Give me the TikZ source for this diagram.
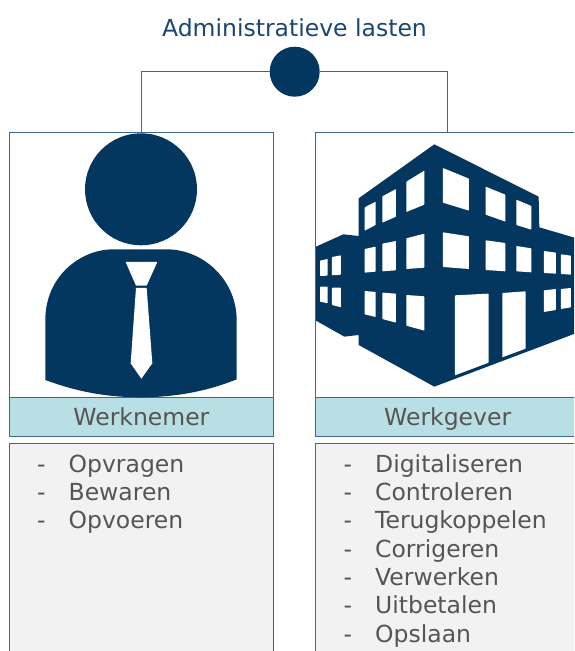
\documentclass[tikz,border=0pt]{standalone}
\usepackage{fontspec}
\setmainfont{DejaVu Sans}
\definecolor{navy}{HTML}{04375F}
\definecolor{titleblue}{HTML}{1A4672}
\definecolor{edgeblue}{HTML}{3A6890}
\definecolor{labelteal}{HTML}{B8DFE3}
\definecolor{listgrey}{HTML}{F2F2F2}
\definecolor{textgrey}{HTML}{555555}
\tikzset{
  picbox/.style={draw=edgeblue,fill=white,line width=0.8pt,minimum width=264pt,minimum height=264.6pt,inner sep=0pt},
  labelbox/.style={draw=edgeblue,fill=labelteal,line width=0.8pt,minimum width=264pt,minimum height=39.4pt,inner sep=0pt,text height=19pt,text depth=3pt,font=\fontsize{23.5pt}{26pt}\selectfont,text=textgrey},
  listbox/.style={draw=edgeblue,fill=listgrey,line width=0.8pt,minimum width=264pt,minimum height=240pt,inner sep=0pt},
  itemtext/.style={anchor=base west,inner sep=0pt,font=\fontsize{23.5pt}{26pt}\selectfont,text=textgrey},
  icon/.style={fill=navy,draw=none},
  hole/.style={fill=white,draw=none,rounded corners=0.6pt},
  link/.style={draw=edgeblue,line width=0.8pt}
}
\begin{document}
\begin{tikzpicture}[x=1pt,y=-1pt]
  \useasboundingbox (0,0) rectangle (574,651);
  \clip (0,0) rectangle (574,651);
  % top
  \node[inner sep=0pt,text=titleblue,font=\fontsize{23.5pt}{26pt}\selectfont] (title) at (294.5,28) {Administratieve lasten};
  \node[circle,icon,minimum size=50pt,inner sep=0pt] (hub) at (294.7,71.7) {};
  % left column
  \node[picbox] (wnpic) at (141.4,265) {};
  \node[labelbox] (wnlabel) at (141.4,417) {Werknemer};
  \node[listbox,anchor=north] (wnlist) at (141.4,442.7) {};
  % right column
  \node[picbox] (wgpic) at (447.7,265) {};
  \node[labelbox] (wglabel) at (447.7,417) {Werkgever};
  \node[listbox,anchor=north] (wglist) at (447.7,442.7) {};
  % connectors
  \draw[link] (hub) -| (wnpic);
  \draw[link] (hub) -| (wgpic);
  % person
  \node[circle,icon,minimum size=112pt,inner sep=0pt] (head) at (141,189.3) {};
  \begin{scope}[shift={(0,130)},x=0.3333pt,y=-0.3333pt]
    \fill[icon] (136,750) -- (136,570) .. controls (136,440) and (240,358) .. (340,358)
      -- (500,358) .. controls (610,358) and (710,450) .. (710,570)
      -- (710,748) .. controls (620,785) and (520,802) .. (423,802)
      .. controls (320,802) and (230,785) .. (136,750) -- cycle;
    \fill[hole] (377,396) -- (472,396) -- (440,467) -- (408,467) -- cycle;
    \fill[white] (408,474) -- (440,474) -- (457,700) -- (424,746) -- (392,700) -- cycle;
  \end{scope}
  % building
  \begin{scope}[shift={(300,130)},x=0.3333pt,y=-0.3333pt]
    \fill[icon] (48,350) -- (130,313) -- (176,318) -- (176,205) -- (403,43) -- (716,200) -- (718,292)
      -- (830,325) -- (830,609) -- (403,770) -- (176,645) -- (176,615) -- (133,620) -- (48,572) -- cycle;
    % top row
    \fill[hole] (194,232) -- (227,215) -- (227,285) -- (194,302) -- cycle;
    \fill[hole] (247,199) -- (288,177) -- (288,260) -- (247,278) -- cycle;
    \fill[hole] (319,155) -- (373,122) -- (373,224) -- (319,246) -- cycle;
    \fill[hole] (429,114) -- (507,146) -- (507,242) -- (429,218) -- cycle;
    \fill[hole] (557,170) -- (616,194) -- (616,275) -- (557,254) -- cycle;
    \fill[hole] (649,209) -- (694,228) -- (694,299) -- (649,285) -- cycle;
    % middle row
    \fill[hole] (194,357) -- (227,350) -- (227,425) -- (194,428) -- cycle;
    \fill[hole] (247,341) -- (288,333) -- (288,421) -- (247,424) -- cycle;
    \fill[hole] (319,325) -- (373,311) -- (373,413) -- (319,417) -- cycle;
    \fill[hole] (429,307) -- (507,319) -- (507,417) -- (429,411) -- cycle;
    \fill[hole] (557,331) -- (616,339) -- (616,424) -- (557,420) -- cycle;
    \fill[hole] (649,348) -- (694,355) -- (694,427) -- (649,424) -- cycle;
    \fill[hole] (732,363) -- (768,368) -- (768,431) -- (732,429) -- cycle;
    \fill[hole] (783,373) -- (813,377) -- (813,434) -- (783,432) -- cycle;
    % bottom row
    \fill[hole] (194,483) -- (227,486) -- (227,561) -- (194,553) -- cycle;
    \fill[hole] (247,488) -- (288,491) -- (288,578) -- (247,567) -- cycle;
    \fill[hole] (319,495) -- (373,499) -- (373,602) -- (319,587) -- cycle;
    \fill[hole] (732,481) -- (768,477) -- (768,540) -- (732,546) -- cycle;
    \fill[hole] (783,477) -- (813,474) -- (813,532) -- (783,537) -- cycle;
    % doors
    \fill[hole] (465,496) -- (566,491) -- (566,698) -- (465,736) -- cycle;
    \fill[hole] (607,489) -- (677,484) -- (677,656) -- (607,682) -- cycle;
    % side wing
    \fill[hole] (60,392) -- (83,387) -- (83,437) -- (60,438) -- cycle;
    \fill[hole] (96,381) -- (123,376) -- (123,434) -- (96,436) -- cycle;
    \fill[hole] (60,470) -- (83,470) -- (83,520) -- (60,515) -- cycle;
    \fill[hole] (96,473) -- (123,473) -- (123,532) -- (96,525) -- cycle;
  \end{scope}
  % lists
  \foreach \txt [count=\i] in {Opvragen,Bewaren,Opvoeren}
    \node[itemtext] (wnitem\i) at (37,{472.3+28.33*(\i-1)}) {-\hspace{23pt}\txt};
  \foreach \txt [count=\i] in {Digitaliseren,Controleren,Terugkoppelen,Corrigeren,Verwerken,Uitbetalen,Opslaan}
    \node[itemtext] (wgitem\i) at (343.5,{472.3+28.33*(\i-1)}) {-\hspace{23pt}\txt};
\end{tikzpicture}
\end{document}
